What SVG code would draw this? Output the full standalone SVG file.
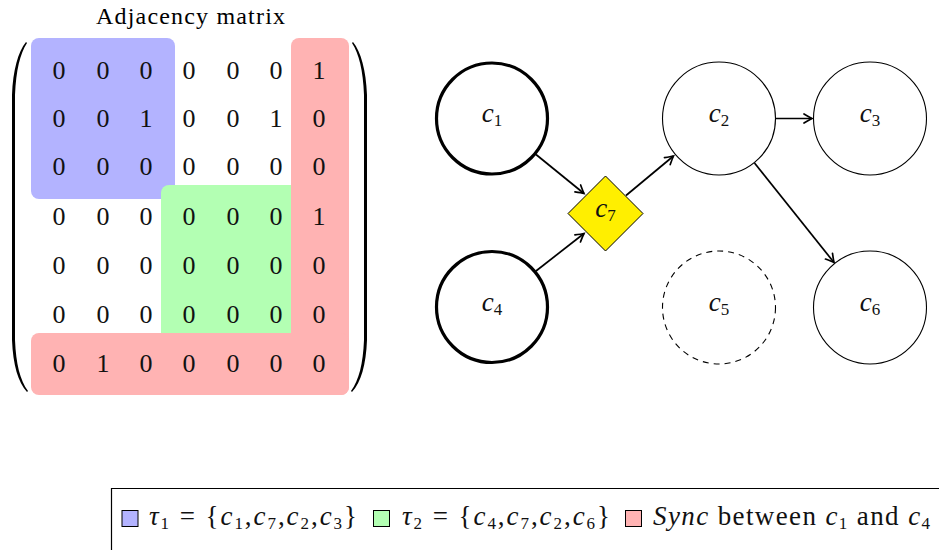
<svg xmlns="http://www.w3.org/2000/svg" xmlns:xlink="http://www.w3.org/1999/xlink" width="939" height="550" viewBox="0 0 939 550">
  <style>
    .serif { font-family: "Liberation Serif", "DejaVu Serif", serif; fill: #000; }
    .cell { font-family: "Liberation Serif", "DejaVu Serif", serif; font-size: 26px; text-anchor: middle; fill: #111; }
    .lbl { font-family: "Liberation Serif", "DejaVu Serif", serif; font-size: 27px; font-style: italic; text-anchor: middle; fill: #111; }
    .sub { font-size: 17px; font-style: normal; }
    .thick { fill: #fff; stroke: #000; stroke-width: 3.2; }
    .thin { fill: #fff; stroke: #000; stroke-width: 1.1; }
    .dash { fill: #fff; stroke: #000; stroke-width: 1.1; stroke-dasharray: 6 5; }
    .edge { fill: none; stroke: #000; stroke-width: 1.7; marker-end: url(#tip); }
    .legtxt { font-family: "Liberation Serif", "DejaVu Serif", serif; font-size: 27px; fill: #111; }
    .it { font-style: italic; }
    .lsub { font-size: 17px; font-style: normal; }
  </style>
  <defs>
    <marker id="tip" markerUnits="userSpaceOnUse" markerWidth="14" markerHeight="14" viewBox="-10 -7 12 14" refX="0" refY="0" orient="auto">
      <path d="M-8,-4.5 Q-2.5,-1.2 0,0 Q-2.5,1.2 -8,4.5" fill="none" stroke="#000" stroke-width="1.7" stroke-linecap="round"/>
    </marker>
    <path id="paren" d="M26,42 C18,52 13,70 12,95 L12,340 C13,365 18,382 27,392 L28,391 C20,380 16,364 15,340 L15,95 C16,70 20,54 27,43 Z" fill="#000"/>
  </defs>

  <!-- adjacency matrix -->
  <g id="matrix">
    <text class="serif" x="190.5" y="24" font-size="24" text-anchor="middle" textLength="189" lengthAdjust="spacing">Adjacency matrix</text>
    <!-- highlighted blocks -->
    <rect x="31" y="38" width="144" height="161" rx="8" fill="#b3b3ff"/>
    <rect x="161" y="185" width="140" height="160" rx="8" fill="#b3ffb3"/>
    <rect x="291" y="38" width="58" height="357" rx="8" fill="#ffb3b3"/>
    <rect x="31" y="333" width="318" height="62" rx="8" fill="#ffb3b3"/>
    <!-- parentheses -->
    <use xlink:href="#paren"/>
    <use xlink:href="#paren" transform="matrix(-1 0 0 1 379 0)"/>
    <!-- entries -->
    <g>
      <text class="cell" x="59" y="79">0</text><text class="cell" x="103" y="79">0</text><text class="cell" x="146" y="79">0</text><text class="cell" x="189" y="79">0</text><text class="cell" x="233" y="79">0</text><text class="cell" x="276" y="79">0</text><text class="cell" x="319" y="79">1</text>
      <text class="cell" x="59" y="127">0</text><text class="cell" x="103" y="127">0</text><text class="cell" x="146" y="127">1</text><text class="cell" x="189" y="127">0</text><text class="cell" x="233" y="127">0</text><text class="cell" x="276" y="127">1</text><text class="cell" x="319" y="127">0</text>
      <text class="cell" x="59" y="175">0</text><text class="cell" x="103" y="175">0</text><text class="cell" x="146" y="175">0</text><text class="cell" x="189" y="175">0</text><text class="cell" x="233" y="175">0</text><text class="cell" x="276" y="175">0</text><text class="cell" x="319" y="175">0</text>
      <text class="cell" x="59" y="225">0</text><text class="cell" x="103" y="225">0</text><text class="cell" x="146" y="225">0</text><text class="cell" x="189" y="225">0</text><text class="cell" x="233" y="225">0</text><text class="cell" x="276" y="225">0</text><text class="cell" x="319" y="225">1</text>
      <text class="cell" x="59" y="274">0</text><text class="cell" x="103" y="274">0</text><text class="cell" x="146" y="274">0</text><text class="cell" x="189" y="274">0</text><text class="cell" x="233" y="274">0</text><text class="cell" x="276" y="274">0</text><text class="cell" x="319" y="274">0</text>
      <text class="cell" x="59" y="323">0</text><text class="cell" x="103" y="323">0</text><text class="cell" x="146" y="323">0</text><text class="cell" x="189" y="323">0</text><text class="cell" x="233" y="323">0</text><text class="cell" x="276" y="323">0</text><text class="cell" x="319" y="323">0</text>
      <text class="cell" x="59" y="372">0</text><text class="cell" x="103" y="372">1</text><text class="cell" x="146" y="372">0</text><text class="cell" x="189" y="372">0</text><text class="cell" x="233" y="372">0</text><text class="cell" x="276" y="372">0</text><text class="cell" x="319" y="372">0</text>
    </g>
  </g>

  <!-- connectors -->
  <g id="edges">
    <line class="edge" x1="536" y1="154.5" x2="584" y2="193.5"/>
    <line class="edge" x1="536" y1="271" x2="584" y2="233.5"/>
    <line class="edge" x1="626" y1="195.5" x2="673.5" y2="156"/>
    <line class="edge" x1="776" y1="118.5" x2="812" y2="118.5"/>
    <line class="edge" x1="754.5" y1="163" x2="834" y2="262.5"/>
  </g>

  <!-- nodes -->
  <g id="c1">
    <circle class="thick" cx="492" cy="118.5" r="55.5"/>
    <text class="lbl" x="492" y="122">c<tspan class="sub" dy="4">1</tspan></text>
  </g>
  <g id="c4">
    <circle class="thick" cx="492" cy="307" r="55.5"/>
    <text class="lbl" x="492" y="310.5">c<tspan class="sub" dy="4">4</tspan></text>
  </g>
  <g id="c7">
    <polygon points="605.5,176 643,213.5 605.5,251 568,213.5" fill="#ffef00" stroke="#000" stroke-width="1"/>
    <text class="lbl" x="605.5" y="217">c<tspan class="sub" dy="4">7</tspan></text>
  </g>
  <g id="c2">
    <circle class="thin" cx="719" cy="118.5" r="56.5"/>
    <text class="lbl" x="719" y="122">c<tspan class="sub" dy="4">2</tspan></text>
  </g>
  <g id="c3">
    <circle class="thin" cx="870" cy="118.5" r="56.5"/>
    <text class="lbl" x="870" y="122">c<tspan class="sub" dy="4">3</tspan></text>
  </g>
  <g id="c5">
    <circle class="dash" cx="719" cy="307.5" r="56.5"/>
    <text class="lbl" x="719" y="311">c<tspan class="sub" dy="4">5</tspan></text>
  </g>
  <g id="c6">
    <circle class="thin" cx="870" cy="307.5" r="56.5"/>
    <text class="lbl" x="870" y="311">c<tspan class="sub" dy="4">6</tspan></text>
  </g>

  <!-- legend -->
  <g id="legend">
    <path d="M111.5,550 L111.5,488.5 L939,488.5" fill="none" stroke="#000" stroke-width="1.2"/>
    <rect x="122" y="510.5" width="16" height="16" fill="#b3b3ff" stroke="#000" stroke-width="1"/>
    <text class="legtxt" x="149" y="525" textLength="208" lengthAdjust="spacing"><tspan class="it">τ</tspan><tspan class="lsub" dy="4">1</tspan><tspan dy="-4"> = {</tspan><tspan class="it">c</tspan><tspan class="lsub" dy="4">1</tspan><tspan dy="-4">,</tspan><tspan class="it">c</tspan><tspan class="lsub" dy="4">7</tspan><tspan dy="-4">,</tspan><tspan class="it">c</tspan><tspan class="lsub" dy="4">2</tspan><tspan dy="-4">,</tspan><tspan class="it">c</tspan><tspan class="lsub" dy="4">3</tspan><tspan dy="-4">}</tspan></text>
    <rect x="373.5" y="510.5" width="16" height="16" fill="#b3ffb3" stroke="#000" stroke-width="1"/>
    <text class="legtxt" x="402" y="525" textLength="208" lengthAdjust="spacing"><tspan class="it">τ</tspan><tspan class="lsub" dy="4">2</tspan><tspan dy="-4"> = {</tspan><tspan class="it">c</tspan><tspan class="lsub" dy="4">4</tspan><tspan dy="-4">,</tspan><tspan class="it">c</tspan><tspan class="lsub" dy="4">7</tspan><tspan dy="-4">,</tspan><tspan class="it">c</tspan><tspan class="lsub" dy="4">2</tspan><tspan dy="-4">,</tspan><tspan class="it">c</tspan><tspan class="lsub" dy="4">6</tspan><tspan dy="-4">}</tspan></text>
    <rect x="625.5" y="510.5" width="16" height="16" fill="#ffb3b3" stroke="#000" stroke-width="1"/>
    <text class="legtxt" x="653" y="525" textLength="277" lengthAdjust="spacing"><tspan class="it">Sync</tspan> between <tspan class="it">c</tspan><tspan class="lsub" dy="4">1</tspan><tspan dy="-4"> and </tspan><tspan class="it">c</tspan><tspan class="lsub" dy="4">4</tspan></text>
  </g>
</svg>
